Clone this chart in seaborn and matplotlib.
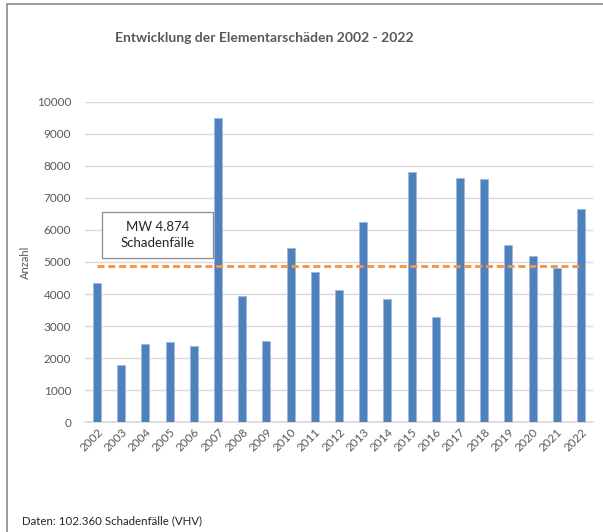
import numpy as np
import pandas as pd
import matplotlib
matplotlib.use("Agg")
import matplotlib.pyplot as plt
import seaborn as sns
from matplotlib.patches import Rectangle

# Data
years = [str(y) for y in range(2002, 2023)]
counts = [4340, 1800, 2443, 2515, 2390, 9500, 3950, 2546, 5430, 4700, 4130,
          6240, 3838, 7820, 3285, 7620, 7600, 5540, 5190, 4824, 6660]
mean_label = "MW 4.874\nSchadenfälle"
title = "Entwicklung der Elementarschäden 2002 - 2022"
footer = "Daten: 102.360 Schadenfälle (VHV)"

df = pd.DataFrame({"Jahr": years, "Anzahl": counts})
mean_val = df["Anzahl"].mean()

sns.set_style("white")
plt.rcParams["font.family"] = ["Lato", "DejaVu Sans"]
grey = "#595959"
W, H = 603, 532

fig = plt.figure(figsize=(6.03, 5.32), dpi=100)
ax = fig.add_axes([85 / W, 1 - 422.3 / H, (593 - 85) / W, (422.3 - 101.7) / H])

sns.barplot(data=df, x="Jahr", y="Anzahl", order=years, color="#4F81BD",
            saturation=1, width=0.33, edgecolor="#9DB9DD", linewidth=0.6,
            ax=ax, zorder=3)

# mean line
ax.plot(np.arange(len(years)), [mean_val] * len(years), ls=(0, (2.4, 1.3)),
        color="#F79646", lw=2.1, zorder=4)

ax.set_ylim(0, 10000)
ax.set_xlim(-0.5, len(years) - 0.5)
ax.set_yticks(range(0, 10001, 1000))
ax.yaxis.grid(True, color="#D9D9D9", lw=1.0, zorder=0)
ax.set_axisbelow(True)
for s in ["top", "right", "left"]:
    ax.spines[s].set_visible(False)
ax.spines["bottom"].set_color("#D9D9D9")
ax.spines["bottom"].set_linewidth(1.2)
ax.tick_params(axis="both", length=0, colors=grey, labelsize=8.5)
ax.tick_params(axis="y", pad=10)
ax.tick_params(axis="x", pad=3)
plt.setp(ax.get_xticklabels(), rotation=45, ha="right", rotation_mode="anchor")
ax.set_xlabel("")
ax.set_ylabel("Anzahl", color=grey, fontsize=8)
ax.yaxis.set_label_coords((31 - 85) / 508, 0.5)

# annotation box for mean value
fig.patches.append(Rectangle((102 / W, 1 - 258 / H), 111 / W, 46 / H,
                             transform=fig.transFigure, fc="white",
                             ec="#8C8C8C", lw=0.9, zorder=5))
fig.text(157.5 / W, 1 - 235 / H, mean_label, ha="center", va="center",
         fontsize=9.5, color="#262626", linespacing=1.45, zorder=6)

fig.text(264 / W, 1 - 38 / H, title, ha="center", va="center",
         fontsize=10, fontweight="bold", color=grey)
fig.text(22 / W, 1 - 521 / H, footer, ha="left", va="center",
         fontsize=8.3, color="#262626")

# chart frame
fig.patches.append(Rectangle((7 / W, -0.1), 1.2, 1.1 - 4 / H,
                             transform=fig.transFigure, fill=False,
                             ec="#8C8C8C", lw=1.2))

fig.savefig("out.png", dpi=100)
